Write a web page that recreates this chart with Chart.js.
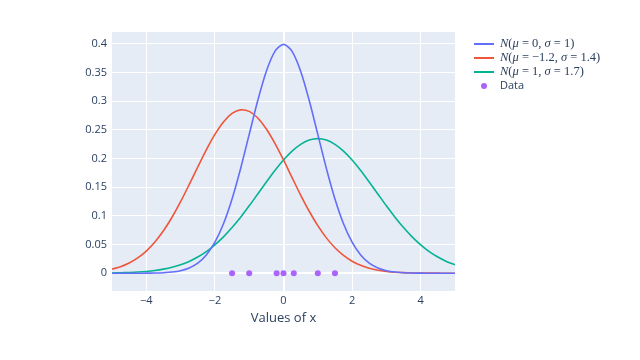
<!DOCTYPE html>
<html>
<head>
<meta charset="utf-8">
<script src="https://cdn.jsdelivr.net/npm/chart.js@4.4.0/dist/chart.umd.min.js"></script>
<style>
  html, body { margin: 0; background: #fff; }
</style>
</head>
<body>
<canvas id="normals" width="640" height="360"></canvas>
<script>
  // x positions the curves were read at
  const xs = [-5, -4.75, -4.5, -4.25, -4, -3.75, -3.5, -3.25, -3, -2.75, -2.5, -2.25, -2, -1.75, -1.5, -1.25, -1, -0.75, -0.5, -0.25,
    0, 0.25, 0.5, 0.75, 1, 1.25, 1.5, 1.75, 2, 2.25, 2.5, 2.75, 3, 3.25, 3.5, 3.75, 4, 4.25, 4.5, 4.75, 5];
  // N(0, 1)
  const pdfStd = [0, 0, 0, 0, 0.0001, 0.0004, 0.0009, 0.0020, 0.0044, 0.0091, 0.0175, 0.0317, 0.0540, 0.0863, 0.1295, 0.1826, 0.2420, 0.3011, 0.3521, 0.3867,
    0.3989, 0.3867, 0.3521, 0.3011, 0.2420, 0.1826, 0.1295, 0.0863, 0.0540, 0.0317, 0.0175, 0.0091, 0.0044, 0.0020, 0.0009, 0.0004, 0.0001, 0, 0, 0, 0];
  // N(-1.2, 1.4)
  const pdfLeft = [0.0072, 0.0114, 0.0177, 0.0266, 0.0386, 0.0543, 0.0739, 0.0976, 0.1247, 0.1544, 0.1852, 0.2151, 0.2420, 0.2638, 0.2785, 0.2848, 0.2821, 0.2706, 0.2515, 0.2264,
    0.1974, 0.1667, 0.1363, 0.1080, 0.0829, 0.0616, 0.0444, 0.0309, 0.0209, 0.0137, 0.0087, 0.0053, 0.0032, 0.0018, 0.0010, 0.0005, 0.0003, 0.0001, 0.0001, 0, 0];
  // N(1, 1.7)
  const pdfRight = [0.0005, 0.0008, 0.0013, 0.0020, 0.0031, 0.0047, 0.0071, 0.0103, 0.0147, 0.0206, 0.0282, 0.0377, 0.0495, 0.0634, 0.0796, 0.0977, 0.1175, 0.1382, 0.1590, 0.1791,
    0.1974, 0.2129, 0.2247, 0.2321, 0.2347, 0.2321, 0.2247, 0.2129, 0.1974, 0.1791, 0.1590, 0.1382, 0.1175, 0.0977, 0.0796, 0.0634, 0.0495, 0.0377, 0.0282, 0.0206, 0.0147];
  const dataX = [-1.5, -1, -0.2, 0, 0.3, 1, 1.5];

  const xTicks = [-4, -2, 0, 2, 4];
  const yTicks = [0, 0.05, 0.1, 0.15, 0.2, 0.25, 0.3, 0.35, 0.4];
  const seriesNames = ['N(μ = 0, σ = 1)', 'N(μ = −1.2, σ = 1.4)', 'N(μ = 1, σ = 1.7)', 'Data'];
  const colors = ['#636efa', '#EF553B', '#06b294', '#ab63fa'];

  const FONT = '"Open Sans", "DejaVu Sans", sans-serif';
  const TXT = '#2a3f5f';

  const toPts = ys => xs.map((x, i) => ({x: x, y: ys[i]}));

  // plot background + legend drawn by hand
  const plotBg = {
    id: 'plotBg',
    beforeDraw(chart) {
      const a = chart.chartArea, c = chart.ctx;
      c.save();
      c.fillStyle = '#E5ECF6';
      c.fillRect(a.left, a.top, a.right - a.left, a.bottom - a.top);
      c.restore();
    },
    afterDraw(chart) {
      const c = chart.ctx;
      const rowY = [44, 58, 72, 86];
      c.save();
      c.textBaseline = 'middle';
      seriesNames.forEach((name, i) => {
        const y = rowY[i];
        if (i < 3) {
          c.strokeStyle = colors[i];
          c.lineWidth = 2;
          c.beginPath(); c.moveTo(474, y); c.lineTo(494, y); c.stroke();
          // math-ish label: N, μ, σ in italic serif
          let x = 500;
          for (const ch of name) {
            const it = 'Nμσ'.includes(ch);
            c.font = (it ? 'italic ' : '') + '12.5px "Liberation Serif", "DejaVu Serif", serif';
            c.fillStyle = TXT;
            c.fillText(ch, x, y);
            x += c.measureText(ch).width;
          }
        } else {
          c.fillStyle = colors[i];
          c.beginPath(); c.arc(484, y, 3, 0, Math.PI * 2); c.fill();
          c.font = '11px ' + FONT;
          c.fillStyle = TXT;
          c.fillText(name, 500, y);
        }
      });
      c.restore();
    }
  };

  const line = (ys, i) => ({
    label: seriesNames[i], data: toPts(ys), showLine: true,
    borderColor: colors[i], borderWidth: 1.6, pointRadius: 0, tension: 0.3, fill: false
  });

  new Chart(document.getElementById('normals'), {
    type: 'scatter',
    data: {
      datasets: [
        line(pdfStd, 0),
        line(pdfLeft, 1),
        line(pdfRight, 2),
        {
          label: seriesNames[3], data: dataX.map(x => ({x: x, y: 0})),
          showLine: false, pointRadius: 3, pointBackgroundColor: colors[3],
          pointBorderWidth: 0
        }
      ]
    },
    options: {
      responsive: false,
      animation: false,
      devicePixelRatio: 1,
      layout: { padding: { top: 32, right: 185, left: 0, bottom: 30 } },
      plugins: { legend: { display: false }, tooltip: { enabled: false } },
      scales: {
        x: {
          type: 'linear', min: -5, max: 5,
          afterBuildTicks: s => { s.ticks = xTicks.map(v => ({value: v})); },
          afterFit: s => { s.height = 39; },
          grid: {
            color: '#ffffff', drawTicks: false,
            lineWidth: ctx => (ctx.tick && ctx.tick.value === 0 ? 2 : 1)
          },
          border: { display: false },
          ticks: {
            padding: 3, color: TXT, font: { family: FONT, size: 11 },
            callback: v => String(v).replace('-', '−')
          },
          title: {
            display: true, text: 'Values of x', color: TXT,
            font: { family: FONT, size: 13 }, padding: { top: 6 }
          }
        },
        y: {
          type: 'linear', min: -0.031, max: 0.4205,
          afterBuildTicks: s => { s.ticks = yTicks.map(v => ({value: v})); },
          afterFit: s => { s.width = 112; },
          grid: {
            color: '#ffffff', drawTicks: false,
            lineWidth: ctx => (ctx.tick && ctx.tick.value === 0 ? 2 : 1)
          },
          border: { display: false },
          ticks: {
            padding: 5, color: TXT, font: { family: FONT, size: 11 },
            callback: v => String(v)
          }
        }
      }
    },
    plugins: [plotBg]
  });
</script>
</body>
</html>
